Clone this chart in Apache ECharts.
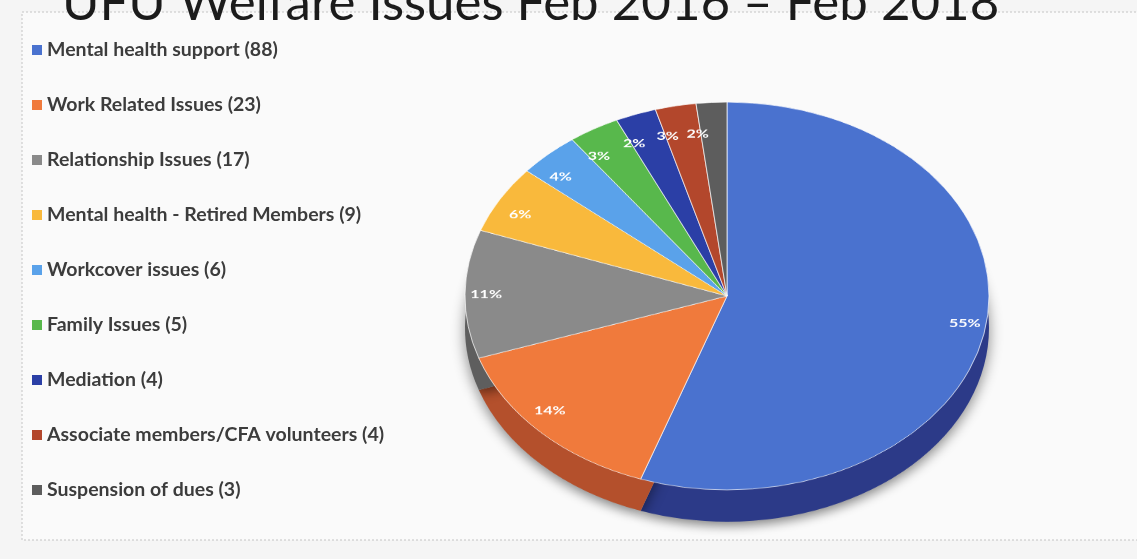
<!DOCTYPE html>
<html>
<head>
<meta charset="utf-8">
<script src="https://cdn.jsdelivr.net/npm/echarts@6/dist/echarts.min.js"></script>
<style>
  html, body { margin: 0; padding: 0; background: #f5f5f5; overflow: hidden; width: 1137px; height: 559px; }
  #main { position: absolute; left: 0; top: 0; width: 1137px; height: 559px; }
  #pie { position: absolute; left: 0; top: 0; width: 1137px; height: 780px; transform-origin: 727px 296px; transform: scaleY(0.74); }
</style>
</head>
<body>
<div id="main"></div>
<div id="pie"></div>
<script>
// ---- data ----
const titleText = 'UFU Welfare Issues Feb 2016 \u2013 Feb 2018';
const categories = [
  'Mental health support',
  'Work Related Issues',
  'Relationship Issues',
  'Mental health - Retired Members',
  'Workcover issues',
  'Family Issues',
  'Mediation',
  'Associate members/CFA volunteers',
  'Suspension of dues'
];
const counts = [88, 23, 17, 9, 6, 5, 4, 4, 3];
const pctLabels = ['55%', '14%', '11%', '6%', '4%', '3%', '2%', '3%', '2%'];

// ---- styling ----
const topColors  = ['#4a72cf', '#f07a3c', '#8a8a8a', '#f9b93c', '#5aa2ea', '#58b84c', '#2b3fa6', '#b3472c', '#5d5d5d'];
const sideColors = ['#2c3a88', '#b4502c', '#5e5e5e', '#b8862a', '#3d74aa', '#3d8234', '#1c2a70', '#7e3018', '#3e3e3e'];

const pieData = categories.map((c, i) => ({ name: c, value: counts[i] }));

const main = echarts.init(document.getElementById('main'), null, { renderer: 'canvas' });
const pie = echarts.init(document.getElementById('pie'), null, { renderer: 'canvas' });

main.setOption({
  backgroundColor: '#f5f5f5',
  color: topColors,
  title: {
    text: titleText,
    left: 57,
    top: -27,
    textStyle: { fontFamily: 'Lato', fontWeight: 'normal', fontSize: 51, color: '#1b1b1b' }
  },
  graphic: [{
    type: 'rect',
    shape: { x: 22, y: 12, width: 1140, height: 528 },
    style: { fill: '#fafafa', stroke: '#c4c4c4', lineWidth: 1, lineDash: [2, 2] },
    z: -10
  }],
  legend: {
    orient: 'vertical',
    left: 27,
    top: 35,
    itemWidth: 10,
    itemHeight: 10,
    itemGap: 35,
    icon: 'rect',
    selectedMode: true,
    textStyle: { fontFamily: 'Lato', fontWeight: 'bold', fontSize: 19.5, color: '#3c3c3c' },
    formatter: function (name) {
      const i = categories.indexOf(name);
      return name + ' (' + counts[i] + ')';
    },
    data: categories
  },
  series: [{
    type: 'pie',
    radius: [0, 0],
    center: [727, 296],
    silent: true,
    label: { show: false },
    labelLine: { show: false },
    data: pieData
  }]
});

pie.setOption({
  backgroundColor: 'transparent',
  legend: { show: false, data: categories },
  series: [
    {
      // side wall (3D depth)
      type: 'pie',
      radius: 262,
      center: [727, 339],
      startAngle: 90,
      clockwise: true,
      silent: true,
      z: 1,
      label: { show: false },
      labelLine: { show: false },
      itemStyle: {
        color: function (p) { return sideColors[p.dataIndex]; },
        shadowBlur: 14,
        shadowColor: 'rgba(0,0,0,0.45)',
        shadowOffsetY: 6
      },
      data: pieData
    },
    {
      // top face
      type: 'pie',
      radius: 262,
      center: [727, 296],
      startAngle: 90,
      clockwise: true,
      avoidLabelOverlap: false,
      z: 2,
      itemStyle: {
        color: function (p) { return topColors[p.dataIndex]; },
        borderColor: 'rgba(255,255,255,0.7)',
        borderWidth: 1
      },
      label: {
        show: true,
        position: 'outside',
        alignTo: 'none',
        formatter: function (p) { return pctLabels[p.dataIndex]; },
        color: '#ffffff',
        fontFamily: 'Lato',
        fontWeight: 'bold',
        fontSize: 16
      },
      labelLine: { show: false, length: -42, length2: 0 },
      data: pieData
    }
  ]
});

main.group = 'g';
pie.group = 'g';
echarts.connect('g');
</script>
</body>
</html>
